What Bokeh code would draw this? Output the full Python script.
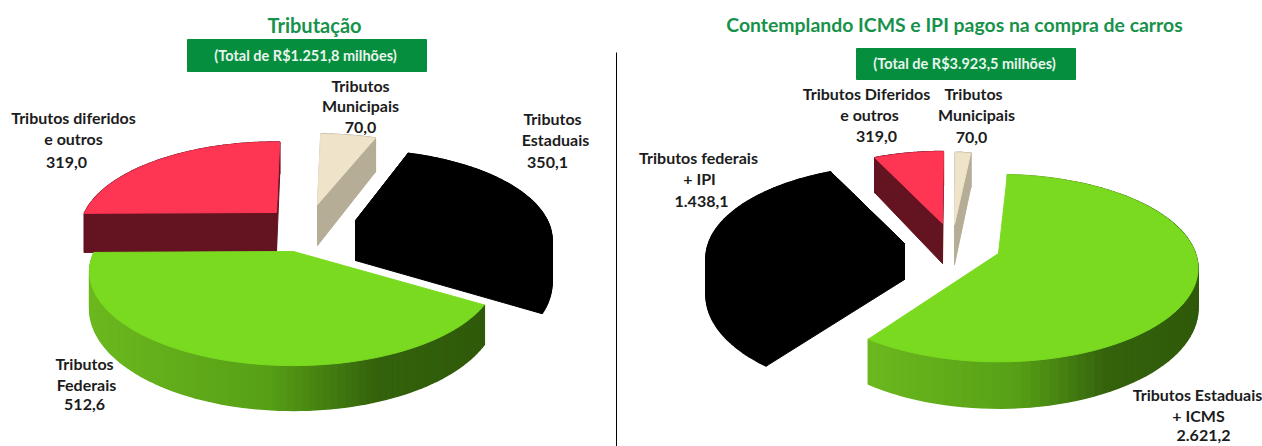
import numpy as np
from bokeh.plotting import figure
from bokeh.models import Range1d
from bokeh.core.properties import value
from bokeh.embed import file_html
from bokeh.resources import INLINE

# ---- data
left_names = ["Tributos Federais", "Tributos diferidos e outros", "Tributos Municipais", "Tributos Estaduais"]
left_values = [512.6, 319.0, 70.0, 350.1]
right_names = ["Tributos Estaduais + ICMS", "Tributos federais + IPI", "Tributos Diferidos e outros", "Tributos Municipais"]
right_values = [2621.2, 1438.1, 319.0, 70.0]
left_title = "Tributação"
right_title = "Contemplando ICMS e IPI pagos na compra de carros"
left_total = "(Total de R$1.251,8 milhões)"
right_total = "(Total de R$3.923,5 milhões)"

# ---- layout (pixel positions of the page picture)
GREEN, RED, CREAM, BLACK = "#7ada20", "#fe3553", "#efe3c9", "#000000"
SIDES = {GREEN: "#4f8f13", RED: "#641320", CREAM: "#b5ad96", BLACK: "#000000"}
left_style = dict(start=-32.0, R=204, Rk=91.4, p=0.219, colors=[GREEN, RED, CREAM, BLACK],
                  apex=[(293, 251), (276, 212), (317, 204), (355, 220)],
                  scale=[0.975, 0.94, 0.94, 0.94], depth=[35, 39, 41, 40], rot=[0, 0, 0, 2])
right_style = dict(start=84.0, R=200, Rk=92.6, p=0.158, colors=[GREEN, BLACK, RED, CREAM],
                   apex=[(998, 253), (904, 243), (942, 223), (954, 224)],
                   scale=[0.985, 0.98, 0.9, 0.9], depth=[39, 36, 40, 40], rot=[3, 0, 0, 0])
wall_stops = [(0.0, "#6bb81f"), (0.45, "#57a016"), (0.72, "#34630c"), (1.0, "#2f5a0a")]

W, H = 1262, 446
p = figure(width=W, height=H, x_range=Range1d(0, W), y_range=Range1d(H, 0),
           toolbar_location=None, output_backend="svg", min_border=0, outline_line_color=None,
           background_fill_color="white", border_fill_color="white")
p.axis.visible = False
p.grid.visible = False


def hex2rgb(h):
    return np.array([int(h[i:i + 2], 16) for i in (1, 3, 5)], float)


def wall_color(f):
    for (a, ca), (b, cb) in zip(wall_stops, wall_stops[1:]):
        if f <= b:
            t = (f - a) / (b - a)
            c = hex2rgb(ca) * (1 - t) + hex2rgb(cb) * t
            return "#%02x%02x%02x" % tuple(int(round(v)) for v in c)
    return wall_stops[-1][1]


def pt(ang, st, ax, ay, sc):
    a = np.radians(ang)
    s = 1 / (1 + st["p"] * np.sin(a))
    return ax + sc * st["R"] * np.cos(a) * s, ay - sc * st["Rk"] * np.sin(a) * s, s


def draw_pie(values, st, order):
    total = sum(values)
    spans = []
    a0 = st["start"]
    for v in values:
        a1 = a0 - 360 * v / total
        spans.append((a0, a1))
        a0 = a1
    for i in order:
        a0, a1 = spans[i]
        a0, a1 = a0 + st["rot"][i], a1 + st["rot"][i]
        ax, ay = st["apex"][i]
        sc, d = st["scale"][i], st["depth"][i]
        col = st["colors"][i]
        angs = np.linspace(a0, a1, 90)
        P = [pt(a, st, ax, ay, sc) for a in angs]
        xs = [q[0] for q in P]
        ys = [q[1] for q in P]
        ss = [q[2] for q in P]
        # outer wall
        xmin, xmax = min(xs), max(xs)
        sx, sy, cs = [], [], []
        for k in range(len(P) - 1):
            sx.append([xs[k], xs[k + 1], xs[k + 1], xs[k]])
            sy.append([ys[k], ys[k + 1], ys[k + 1] + d * ss[k + 1], ys[k] + d * ss[k]])
            f = ((xs[k] + xs[k + 1]) / 2 - xmin) / (xmax - xmin)
            cs.append(wall_color(f) if col == GREEN else SIDES[col])
        p.patches(sx, sy, fill_color=cs, line_color=cs, line_width=1.5)
        # cut faces
        if col != GREEN:
            for e in (0, -1):
                p.patch([ax, xs[e], xs[e], ax], [ay, ys[e], ys[e] + d * ss[e], ay + d],
                        fill_color=SIDES[col], line_color=SIDES[col], line_width=1)
        # top
        p.patch([ax] + xs, [ay] + ys, fill_color=col, line_color=col, line_width=1)


draw_pie(left_values, left_style, [1, 2, 3, 0])
draw_pie(right_values, right_style, [1, 2, 3, 0])

# divider
p.line([616, 616], [52, H], line_color="black", line_width=1)

# banners
p.quad(left=[187, 856], right=[426, 1075], top=[39, 48], bottom=[71, 79],
       fill_color="#068e3f", line_color="#068e3f")

FONT = value("Lato")


def txt(x, y, s, size, color="#1c1c1c"):
    p.text([x], [y], text=[s], text_font=FONT, text_font_size=size, text_font_style="bold",
           text_color=color, text_align="center", text_baseline="middle")


txt(314, 24, left_title, "20px", "#17924a")
txt(954, 24, right_title, "19.4px", "#17924a")
txt(305, 55, left_total, "14.5px", "#e8f5ec")
txt(964, 63, right_total, "14.5px", "#e8f5ec")

labels = [
    (73, 117, "Tributos diferidos"), (73, 138, "e outros"), (66, 162, "319,0"),
    (360, 85, "Tributos"), (360, 105, "Municipais"), (360, 127, "70,0"),
    (552, 118, "Tributos"), (555, 139, "Estaduais"), (547, 162, "350,1"),
    (84, 363, "Tributos"), (86, 384, "Federais"), (84, 404, "512,6"),
    (866, 93, "Tributos Diferidos"), (869, 114, "e outros"), (876, 136, "319,0"),
    (973, 93, "Tributos"), (976, 114, "Municipais"), (971, 137, "70,0"),
    (698, 157, "Tributos federais"), (699, 178, "+ IPI"), (701, 201, "1.438,1"),
    (1197, 394, "Tributos Estaduais"), (1198, 415, "+ ICMS"), (1203, 435, "2.621,2"),
]
for x, y, s in labels:
    txt(x, y, s, "16px")

open("out.html", "w").write(file_html(p, INLINE))
